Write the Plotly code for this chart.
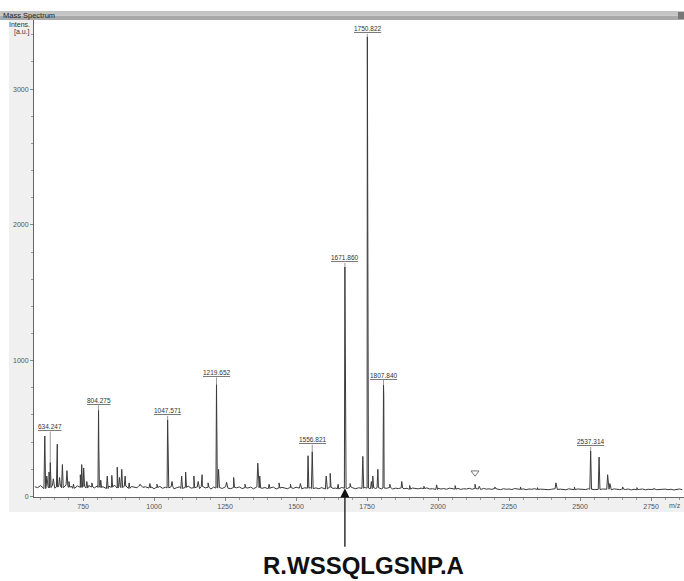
import numpy as np
import plotly.graph_objects as go

# ---------------- data ----------------
baseline_start = 580
baseline_step = 10
baseline_vals = [
    72, 65, 80, 58, 74, 66, 83, 61, 70, 77, 64, 85, 69, 73, 60, 78, 67, 75, 62, 81,
    70, 63, 79, 66, 72, 58, 76, 68, 84, 62, 71, 65, 77, 60, 73, 69, 64, 80, 67, 71,
    62, 70, 57, 66, 74, 60, 68, 63, 72, 56, 65, 71, 59, 67, 76, 61, 64, 69, 58, 73,
    63, 68, 55, 70, 62, 66, 59, 72, 61, 57, 67, 64, 70, 58, 65, 62, 69, 56, 71, 63,
    60, 66, 58, 64, 69, 55, 62, 67, 60, 57, 65, 59, 68, 62, 56, 64, 61, 66, 58, 63,
    57, 65, 60, 55, 68, 59, 62, 56, 66, 61, 58, 70, 63, 57, 64, 60, 67, 62, 58, 65,
    59, 64, 56, 62, 60, 66, 55, 61, 58, 63, 57, 60, 54, 62, 59, 56, 61, 58, 63, 55,
    57, 52, 60, 55, 58, 53, 61, 56, 54, 59, 52, 57, 55, 60, 53, 58, 56, 51, 59, 54,
    56, 52, 58, 54, 50, 57, 53, 55, 51, 58, 54, 52, 56, 50, 55, 53, 57, 51, 54, 52,
    55, 50, 53, 57, 51, 54, 52, 49, 56, 53, 50, 55, 52, 54, 51, 57, 53, 50, 54, 52,
    55, 51, 53, 49, 56, 52, 50, 54, 51, 55, 48, 53, 50, 52, 55, 49, 53, 51, 54, 50,
    52, 49, 54, 50, 53, 48, 51, 55, 50,
]

peak_mz = [
    615, 622, 630, 634.247, 645, 659, 667, 677, 693, 700, 716, 740, 745, 752, 763, 781,
    804.275, 805.3, 812, 835, 851, 870, 878, 886, 898, 912, 950, 985, 1010,
    1047.571, 1048.6, 1063, 1097, 1111, 1140, 1155, 1169, 1190,
    1219.652, 1220.7, 1227, 1255, 1280, 1320, 1365, 1372, 1405, 1440, 1480, 1515,
    1542, 1556.821, 1606, 1620, 1648,
    1671.860, 1672.9, 1690, 1735, 1750.822, 1751.8, 1765, 1770, 1788,
    1807.840, 1808.8, 1830, 1872, 1900, 1950, 1995, 2060, 2130, 2145, 2200, 2290,
    2350, 2415, 2480, 2537.314, 2567, 2597, 2605, 2650, 2700, 2760,
]
peak_int = [
    445, 150, 180, 250, 130, 385, 140, 235, 190, 110, 90, 160, 235, 210, 110, 100,
    635, 360, 120, 150, 155, 215, 140, 200, 150, 100, 90, 95, 90,
    565, 380, 110, 150, 180, 150, 110, 160, 100,
    825, 450, 200, 105, 140, 90, 245, 150, 90, 100, 90, 95,
    300, 330, 150, 170, 90,
    1690, 1070, 95, 295, 3385, 2440, 110, 150, 200,
    820, 735, 90, 110, 80, 75, 85, 80, 90, 75, 70, 70,
    65, 100, 70, 335, 290, 160, 95, 70, 65, 60,
]

label_mz = [634.247, 804.275, 1047.571, 1219.652, 1556.821, 1671.860, 1750.822, 1807.840, 2537.314]
label_text = ["634.247", "804.275", "1047.571", "1219.652", "1556.821", "1671.860", "1750.822", "1807.840", "2537.314"]

marker_mz = [2130]
x_tick_vals = [750, 1000, 1250, 1500, 1750, 2000, 2250, 2500, 2750]
y_tick_vals = [0, 1000, 2000, 3000]
y_tick_text = ["0", "1000", "2000", "3000"]
sequence_label = "R.WSSQLGSNP.A"
arrow_target_mz = 1671.860

# ---------------- build spectrum trace ----------------
b_mz = baseline_start + baseline_step * np.arange(len(baseline_vals))
b_val = np.array(baseline_vals, dtype=float)


def nearest_base(m):
    return b_val[int(np.argmin(np.abs(b_mz - m)))]


pts = [(float(m), float(v)) for m, v in zip(b_mz, b_val)]
hw = 3.0
for m, inten in zip(peak_mz, peak_int):
    b = nearest_base(m)
    pts.append((m - hw, b))
    pts.append((m, float(inten)))
    pts.append((m + hw, b))
pts.sort(key=lambda p: p[0])
xs = [p[0] for p in pts]
ys = [p[1] for p in pts]

# layout geometry (pixels)
W, H = 684, 581
L, R, T, B = 34, 0, 20, 84
pw, ph = W - L - R, H - T - B


def px(x):
    return (x - L) / pw


def py(y):
    return (H - B - y) / ph


fig = go.Figure()
fig.add_trace(go.Scatter(x=xs, y=ys, mode="lines",
                         line=dict(color="#3a3a3a", width=1), hoverinfo="skip",
                         showlegend=False))

pk_lookup = dict(zip(peak_mz, peak_int))
fig.add_trace(go.Scatter(x=marker_mz, y=[pk_lookup[m] + 85 for m in marker_mz], mode="markers",
                         marker=dict(symbol="triangle-down-open", size=7,
                                     color="#777", line=dict(width=1)),
                         showlegend=False, hoverinfo="skip"))

# peak labels
label_offset = {634.247: -36, 804.275: -10, 1047.571: -9, 1219.652: -12, 1556.821: -12,
                1671.860: -9, 1750.822: -8, 1807.840: -10, 2537.314: -9}
annotations = []
for m, t in zip(label_mz, label_text):
    annotations.append(dict(
        x=m, y=pk_lookup[m], xref="x", yref="y", text=t,
        showarrow=True, arrowhead=0, arrowwidth=1, arrowcolor="#9a9a9a",
        ax=0, ay=label_offset[m], standoff=0,
        font=dict(family="Liberation Sans", size=6.5, color="#333", lineposition="under"),
    ))

# arrow to peptide
annotations.append(dict(
    x=arrow_target_mz, y=60, xref="x", yref="y", text="", showarrow=True,
    arrowhead=2, arrowsize=1.4, arrowwidth=1.3, arrowcolor="#111",
    ax=0, ay=60, standoff=0))
annotations.append(dict(
    x=px(363), y=py(565), xref="paper", yref="paper", text="<b>" + sequence_label + "</b>",
    showarrow=False, xanchor="center", yanchor="middle",
    font=dict(family="Liberation Sans", size=24, color="#111")))

# header texts
annotations.append(dict(x=px(1), y=py(15.5), xref="paper", yref="paper", text="Mass Spectrum",
                        showarrow=False, xanchor="left", yanchor="middle",
                        font=dict(family="Liberation Sans", size=7.5, color="#222")))
annotations.append(dict(x=px(32), y=py(24), xref="paper", yref="paper", text="Intens.",
                        showarrow=False, xanchor="right", yanchor="middle",
                        font=dict(family="Liberation Sans", size=7, color="#333")))
annotations.append(dict(x=px(32), y=py(32), xref="paper", yref="paper", text="[a.u.]",
                        showarrow=False, xanchor="right", yanchor="middle",
                        font=dict(family="Liberation Sans", size=7, color="#333")))
annotations.append(dict(x=px(683), y=py(505), xref="paper", yref="paper", text="m/z",
                        showarrow=False, xanchor="right", yanchor="middle",
                        font=dict(family="Liberation Sans", size=7, color="#555")))

shapes = [
    # title bar
    dict(type="rect", xref="paper", yref="paper", x0=px(0), x1=px(684), y0=py(20), y1=py(15.5),
         fillcolor="#a9a9a9", line=dict(width=0), layer="below"),
    dict(type="rect", xref="paper", yref="paper", x0=px(0), x1=px(684), y0=py(15.5), y1=py(11),
         fillcolor="#c4c4c4", line=dict(width=0), layer="below"),
    dict(type="rect", xref="paper", yref="paper", x0=px(678), x1=px(684), y0=py(19), y1=py(12),
         fillcolor="#777", line=dict(width=0), layer="below"),
    # left panel
    dict(type="rect", xref="paper", yref="paper", x0=px(9), x1=px(34), y0=py(512), y1=py(20),
         fillcolor="#f0f0f0", line=dict(width=0), layer="below"),
    # bottom panel
    dict(type="rect", xref="paper", yref="paper", x0=px(9), x1=px(684), y0=py(512), y1=py(497),
         fillcolor="#f0f0f0", line=dict(width=0), layer="below"),
]

axis_font = dict(family="Liberation Sans", size=7, color="#555")
fig.update_layout(
    width=W, height=H,
    margin=dict(l=L, r=R, t=T, b=B, pad=0),
    paper_bgcolor="white", plot_bgcolor="white",
    showlegend=False,
    annotations=annotations, shapes=shapes,
    xaxis=dict(range=[577, 2866], showgrid=False, zeroline=False, showline=True,
               linecolor="#666", linewidth=1, ticks="outside", ticklen=3, tickcolor="#888",
               tickvals=x_tick_vals, tickfont=axis_font,
               minor=dict(dtick=50, tick0=0, ticks="outside", ticklen=2, tickcolor="#999")),
    yaxis=dict(range=[-4, 3509], showgrid=False, zeroline=False, showline=True,
               linecolor="#666", linewidth=1, ticks="outside", ticklen=3, tickcolor="#888",
               tickvals=y_tick_vals, ticktext=y_tick_text, tickfont=axis_font,
               minor=dict(dtick=200, tick0=0, ticks="outside", ticklen=2, tickcolor="#999")),
)

fig.write_html("out.html")
